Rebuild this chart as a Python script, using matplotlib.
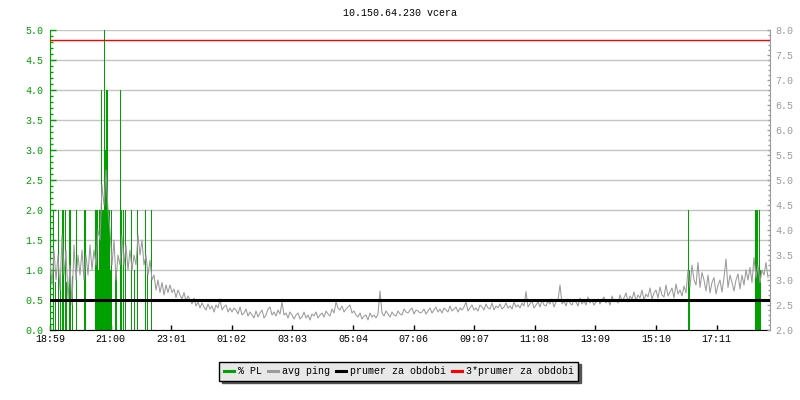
import numpy as np
import matplotlib
matplotlib.use("Agg")
import matplotlib.pyplot as plt
from matplotlib.lines import Line2D
from matplotlib.ticker import MultipleLocator, FormatStrFormatter

# ---------------- data ----------------
title = "10.150.64.230 vcera"
x_tick_labels = ['18:59', '21:00', '23:01', '01:02', '03:03', '05:04',
                 '07:06', '09:07', '11:08', '13:09', '15:10', '17:11']
x_tick_step = 121.2          # minutes between labelled ticks
span_minutes = 1440          # whole day shown

ping_step = 4                # minutes between ping samples
avg_ping = [
    # 18:59 - 20:40
    3.4, 2.9, 3.6, 3.0, 3.5, 2.8, 3.9, 3.1, 3.6, 2.6,
    3.3, 2.5, 3.7, 3.0, 3.5, 3.1, 3.6, 3.0, 3.5, 3.1,
    3.7, 3.2, 3.6, 3.3, 4.0,
    # peak
    3.8, 4.9, 4.5, 5.2, 4.4, 4.0,
    # decay
    3.3, 3.8, 3.0, 3.5, 3.3, 3.9, 3.3, 3.7, 3.2, 3.6,
    3.2, 3.5, 3.3, 3.9, 3.5, 3.8, 3.3, 3.5, 3.1, 3.4,
    3.0, 3.1, 2.8, 3.0, 2.75, 2.95, 2.7, 2.9, 2.75,
    2.9, 2.75, 2.82, 2.65, 2.8, 2.7, 2.62, 2.75, 2.58, 2.68,
    2.6, 2.52, 2.64, 2.48, 2.56, 2.44, 2.54, 2.46, 2.4, 2.52,
    2.42, 2.48, 2.36, 2.5, 2.44, 2.62, 2.4, 2.46, 2.5, 2.36,
    2.44,
    # night
    2.36, 2.44, 2.4, 2.32, 2.46, 2.3, 2.34, 2.42, 2.28, 2.36,
    2.3, 2.24, 2.38, 2.26, 2.34, 2.4, 2.24, 2.3, 2.42, 2.46,
    2.3, 2.36, 2.28, 2.4, 2.32, 2.56, 2.3, 2.34, 2.24, 2.36,
    2.3, 2.22,
    2.3, 2.34, 2.22, 2.26, 2.36, 2.24, 2.3, 2.2, 2.32, 2.28,
    2.36, 2.24, 2.3, 2.34, 2.26, 2.38, 2.32, 2.28, 2.42, 2.34,
    2.56, 2.44, 2.4, 2.48, 2.36, 2.42, 2.46, 2.5, 2.34, 2.38,
    2.3, 2.26, 2.34, 2.22, 2.28, 2.3, 2.2, 2.34, 2.26, 2.3,
    2.24, 2.32, 2.78, 2.34, 2.28, 2.38, 2.32, 2.26, 2.36, 2.3,
    2.28, 2.38, 2.32, 2.3, 2.42, 2.36, 2.34, 2.4, 2.44, 2.32,
    2.4, 2.38, 2.34,
    # morning / day
    2.36, 2.42, 2.32, 2.38, 2.44, 2.34, 2.4, 2.46, 2.36, 2.42,
    2.34, 2.44, 2.4, 2.36, 2.48, 2.38, 2.42, 2.46, 2.36, 2.44,
    2.4, 2.46, 2.56, 2.38, 2.44, 2.5, 2.4, 2.44, 2.38, 2.5,
    2.46, 2.4, 2.52, 2.44, 2.42, 2.54, 2.4, 2.48, 2.44, 2.52,
    2.42, 2.46, 2.54, 2.44, 2.48, 2.42, 2.56, 2.46, 2.5, 2.44,
    2.54, 2.48, 2.77, 2.46, 2.52, 2.58, 2.44, 2.5, 2.56, 2.46,
    2.6, 2.5, 2.48, 2.58, 2.52, 2.62, 2.46, 2.56, 2.6, 2.9,
    2.52, 2.58, 2.48, 2.62, 2.54, 2.5, 2.6, 2.56, 2.48, 2.64,
    2.52, 2.58, 2.5, 2.66, 2.54, 2.6, 2.5, 2.56, 2.62, 2.52,
    2.6, 2.66, 2.54, 2.6, 2.5, 2.68, 2.56, 2.6, 2.54, 2.7,
    2.58, 2.64, 2.74, 2.56, 2.68, 2.62, 2.76, 2.58, 2.7, 2.64,
    2.8, 2.6, 2.72, 2.66, 2.84, 2.62, 2.74, 2.8, 2.64, 2.86,
    2.7, 2.66, 2.9, 2.68, 2.76, 2.84, 2.64, 2.92, 2.72, 2.8,
    2.68, 2.88, 2.74,
    # afternoon
    3.2, 2.86, 3.3, 3.0, 2.9, 3.35, 2.85, 3.15, 3.0, 2.78,
    3.1, 2.74, 2.95, 3.05, 2.72, 2.9, 3.0, 2.76, 3.05, 3.42,
    2.85, 3.1, 2.95, 2.78, 3.0, 3.12, 2.82, 3.1, 2.9, 3.2,
    3.0, 3.25, 2.95, 3.45, 3.05, 3.3, 2.95, 3.2, 3.1, 3.35,
    3.05,
]

pl_minutes = [5, 10, 15, 19, 23, 25, 29, 32, 38, 40, 44, 52, 67, 70,
              90, 92, 94, 96, 98, 100, 102, 104, 106, 108, 110, 112, 114,
              116, 118, 120, 122, 130, 132, 139, 142, 145, 150, 161, 167,
              174, 189, 194, 201,
              1275, 1277, 1409, 1411, 1413, 1415, 1417, 1419]
pl_percent = [2.0, 0.8, 2.0, 0.9, 2.0, 2.0, 2.0, 0.8, 2.0, 2.0, 0.9, 2.0, 2.0, 2.0,
              2.0, 2.0, 2.0, 1.0, 2.0, 2.0, 4.0, 2.0, 2.0, 5.0, 3.0, 4.0, 4.0,
              2.0, 2.0, 1.0, 2.0, 1.0, 1.0, 4.0, 2.0, 2.0, 2.0, 2.0, 1.0,
              2.0, 2.0, 1.0, 2.0,
              2.0, 1.0, 2.0, 2.0, 2.0, 1.0, 2.0, 1.0]

period_avg = 2.6
three_avg = 7.8

legend_labels = ['% PL', 'avg ping', 'prumer za obdobi', '3*prumer za obdobi']

# ---------------- style ----------------
FONT = ['Liberation Mono', 'DejaVu Sans Mono']
plt.rcParams['font.family'] = FONT
FS = 7.2
GREEN = '#00a000'
GRAY = '#9a9a9a'
GRID = '#c4c4c4'

fig = plt.figure(figsize=(8, 4), dpi=100)
ax = fig.add_axes([50/800, 70/400, 720/800, 300/400])
ax2 = ax.twinx()

ping_t = np.arange(len(avg_ping)) * ping_step

ax.vlines(pl_minutes, 0, pl_percent, colors=GREEN, lw=0.72,
          antialiased=False, zorder=2)
ax2.plot(ping_t, avg_ping, color=GRAY, lw=0.75, zorder=3)
ax2.axhline(period_avg, color='black', lw=2.2, zorder=4)
ax2.axhline(three_avg, color='#ff0000', lw=1.0, zorder=5)

ax.set_xlim(0, span_minutes)
ax.set_ylim(0, 5)
ax2.set_ylim(2, 8)

ax.set_xticks(np.arange(len(x_tick_labels)) * x_tick_step)
ax.set_xticklabels(x_tick_labels)
ax.yaxis.set_major_locator(MultipleLocator(0.5))
ax.yaxis.set_minor_locator(MultipleLocator(0.1))
ax2.yaxis.set_major_locator(MultipleLocator(0.5))
ax2.yaxis.set_minor_locator(MultipleLocator(0.1))
ax.yaxis.set_major_formatter(FormatStrFormatter('%.1f'))
ax2.yaxis.set_major_formatter(FormatStrFormatter('%.1f'))

ax.grid(axis='y', color=GRID, lw=1.0, zorder=0)
ax.set_axisbelow(True)

for a in (ax, ax2):
    a.spines['top'].set_visible(False)
ax.spines['left'].set_color(GREEN)
ax.spines['bottom'].set_color('black')
ax.spines['right'].set_visible(False)
ax2.spines['left'].set_visible(False)
ax2.spines['bottom'].set_visible(False)
ax2.spines['right'].set_color(GRAY)

ax.tick_params(axis='y', which='major', direction='in', length=4, width=1,
               color=GREEN, labelcolor=GREEN, labelsize=FS, pad=5)
ax.tick_params(axis='y', which='minor', direction='in', length=2.2, width=1,
               color=GREEN)
ax.tick_params(axis='x', which='major', direction='in', length=3.5, width=1,
               color='black', labelcolor='black', labelsize=FS, pad=3)
ax2.tick_params(axis='y', which='major', direction='in', length=2.5, width=1,
                color=GRAY, labelcolor=GRAY, labelsize=FS, pad=4)
ax2.tick_params(axis='y', which='minor', direction='in', length=1.7, width=1,
                color=GRAY)

fig.text(0.5, 1 - 13/400, title, ha='center', va='center', fontsize=FS,
         color='black')

handles = [Line2D([], [], color=GREEN, lw=2.2),
           Line2D([], [], color=GRAY, lw=2.2),
           Line2D([], [], color='black', lw=2.2),
           Line2D([], [], color='#ff0000', lw=2.2)]
leg = fig.legend(handles, legend_labels, loc='center',
                 bbox_to_anchor=(398.5/800, 1 - 371/400), ncol=4,
                 fontsize=FS, frameon=True, fancybox=False,
                 shadow={'color': '#555555', 'alpha': 1.0},
                 handlelength=1.0, handletextpad=0.4, columnspacing=0.6,
                 borderpad=0.45, borderaxespad=0)
leg.get_frame().set_facecolor('#e8e8e8')
leg.get_frame().set_edgecolor('black')
leg.get_frame().set_linewidth(1.0)
leg.get_frame().set_alpha(1.0)

fig.savefig('out.png', dpi=100)
